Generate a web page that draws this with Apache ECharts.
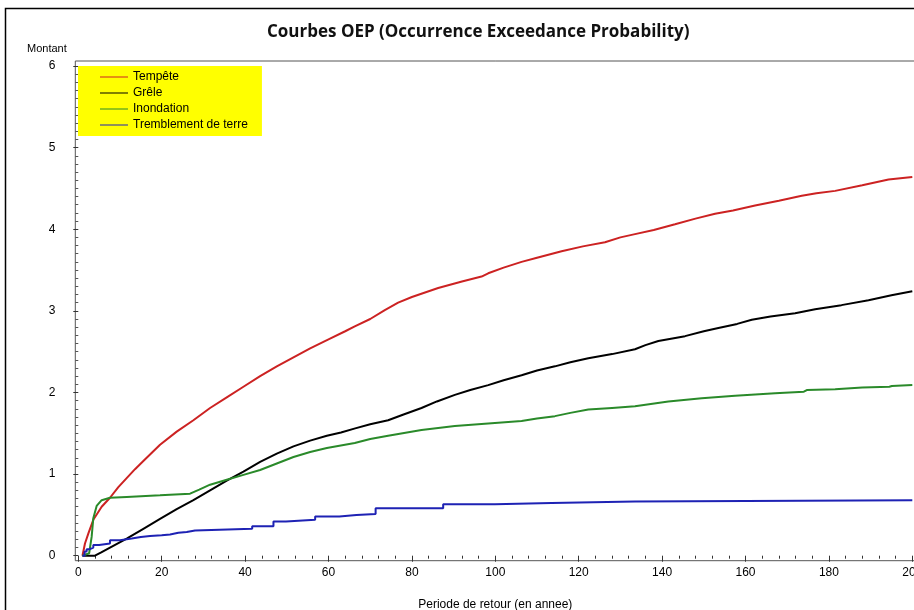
<!DOCTYPE html>
<html>
<head>
<meta charset="utf-8">
<script src="https://cdn.jsdelivr.net/npm/echarts@6/dist/echarts.min.js"></script>
<style>
html,body{margin:0;padding:0;background:#fff;}
#chart{width:914px;height:610px;}
</style>
</head>
<body>
<div id="chart"></div>
<script>
// ---- Data ----
const titleText = 'Courbes OEP (Occurrence Exceedance Probability)';
const yAxisName = 'Montant';
const xAxisName = 'Periode de retour (en annee)';
const seriesNames = ['Tempête', 'Grêle', 'Inondation', 'Tremblement de terre'];
const seriesColors = ['#cc2222', '#000000', '#2a8a2a', '#1e22b4'];

const tempete = [[1,0],[1.6,0.15],[2.4,0.27],[3.6,0.44],[5.6,0.60],[7.6,0.71],[9.6,0.84],[11.6,0.95],[13.6,1.06],[15.6,1.16],[19.6,1.36],[23.6,1.52],[27.6,1.66],[31.6,1.81],[35.6,1.94],[39.6,2.07],[43.6,2.20],[47.6,2.32],[51.6,2.43],[55.6,2.54],[60,2.65],[64,2.75],[66.3,2.81],[70,2.90],[73.5,3.01],[76.7,3.10],[80,3.17],[86.3,3.28],[92,3.36],[96.7,3.42],[98.3,3.46],[102,3.53],[106.3,3.60],[110,3.65],[115.9,3.73],[121,3.79],[126.3,3.84],[130,3.90],[133.5,3.94],[138,3.99],[143.1,4.06],[148,4.13],[152.7,4.19],[157,4.23],[162.3,4.29],[168,4.35],[173.5,4.41],[177,4.44],[181.5,4.47],[188,4.54],[194.3,4.61],[200,4.64]];

const grele = [[1,0],[4,0],[5.5,0.04],[7.6,0.10],[11.6,0.21],[15.6,0.33],[19.6,0.45],[23.6,0.57],[27.6,0.68],[31.6,0.80],[35.6,0.92],[39.6,1.03],[43.6,1.15],[47.6,1.25],[51.6,1.34],[55.6,1.41],[59.6,1.47],[63,1.51],[66.4,1.56],[70,1.61],[74.3,1.66],[78,1.73],[82.3,1.81],[86,1.89],[90.3,1.97],[94,2.03],[98.3,2.09],[102,2.15],[106.3,2.21],[110,2.27],[114.3,2.32],[118,2.37],[122.3,2.42],[128,2.47],[133.5,2.53],[136,2.58],[139.1,2.63],[145.5,2.69],[150,2.75],[153.5,2.79],[158,2.84],[161.5,2.89],[166,2.93],[171.9,2.97],[176.7,3.02],[183,3.07],[189.5,3.13],[195,3.19],[200,3.24]];

const inondation = [[1,0],[2.6,0.03],[3.2,0.23],[3.6,0.46],[4.4,0.61],[5.6,0.68],[7.6,0.71],[11.6,0.72],[19.6,0.74],[26.8,0.76],[29,0.81],[31.6,0.87],[35.6,0.93],[39.6,0.99],[43.6,1.05],[47.6,1.13],[51.6,1.21],[55.6,1.27],[59.6,1.32],[66.3,1.38],[70,1.43],[74.3,1.47],[82.3,1.54],[90.3,1.59],[98.3,1.62],[106.3,1.65],[110,1.68],[114.3,1.71],[118,1.75],[122.3,1.79],[128,1.81],[133.5,1.83],[141.5,1.89],[149.5,1.93],[157.5,1.96],[167.1,1.99],[174,2.01],[174.7,2.03],[181.5,2.04],[188,2.06],[194.5,2.07],[195.1,2.08],[200,2.09]];

const tremblement = [[1,0],[1.5,0.05],[2,0.08],[2.8,0.10],[3.6,0.13],[5,0.15],[7.6,0.19],[10,0.21],[12.8,0.23],[15,0.24],[17.2,0.25],[20,0.26],[22,0.28],[24,0.29],[26,0.31],[28,0.33],[41.7,0.36],[46.8,0.42],[49.8,0.44],[56.8,0.48],[62.6,0.50],[66.7,0.51],[71.3,0.58],[87.5,0.63],[99.9,0.645],[113.5,0.665],[133.5,0.68],[200,0.68]];

const xMin = 0, xMax = 200, xStep = 20;
const yMin = 0, yMax = 6, yStep = 1;

// ---- Chart ----
const chart = echarts.init(document.getElementById('chart'), null, {renderer: 'canvas'});
const FONT = 'Liberation Sans, Arial, sans-serif';
const gridL = 78.3, gridT = 66, gridR = 1.7, gridB = 54.3;

function lineSeries(name, data, color, step) {
  const s = {
    name: name, type: 'line', data: data, showSymbol: false, symbol: 'none',
    lineStyle: {color: color, width: 2}, itemStyle: {color: color},
    clip: false, animation: false
  };
  if (step) s.step = 'end';
  return s;
}

chart.setOption({
  animation: false,
  backgroundColor: '#ffffff',
  title: {
    text: titleText, left: 262, top: 19,
    textStyle: {fontFamily: 'Open Sans, Noto Sans, sans-serif', fontWeight: 'bold', fontSize: 17, color: '#111'}
  },
  legend: {
    orient: 'vertical', left: 78, top: 66,
    backgroundColor: '#ffff00',
    padding: [3, 14, 3, 22],
    icon: 'rect',
    itemWidth: 28, itemHeight: 1, itemGap: 0,
    data: seriesNames,
    textStyle: {fontFamily: FONT, fontSize: 12, lineHeight: 16, color: '#000'}
  },
  grid: {left: gridL, top: gridT, right: gridR, bottom: gridB, containLabel: false, outerBoundsMode: 'none'},
  xAxis: {
    type: 'value', min: xMin, max: xMax, interval: xStep, offset: 5,
    name: xAxisName, nameLocation: 'middle', nameGap: 38,
    nameTextStyle: {fontFamily: FONT, fontSize: 12, color: '#000'},
    axisLine: {show: false},
    axisTick: {show: true, length: 6, lineStyle: {color: '#333'}},
    minorTick: {show: true, splitNumber: 5, length: 3, lineStyle: {color: '#333'}},
    splitLine: {show: false},
    axisLabel: {fontFamily: FONT, fontSize: 12, color: '#000', margin: 6}
  },
  yAxis: {
    type: 'value', min: yMin, max: yMax, interval: yStep, offset: 3,
    axisLine: {show: false},
    axisTick: {show: true, length: 5, lineStyle: {color: '#333'}},
    minorTick: {show: true, splitNumber: 10, length: 3, lineStyle: {color: '#555'}},
    splitLine: {show: false},
    axisLabel: {fontFamily: FONT, fontSize: 12, color: '#000', margin: 20}
  },
  graphic: [
    {type: 'rect', silent: true, shape: {x: 5.5, y: 8.5, width: 1000, height: 1000},
     style: {fill: 'none', stroke: '#000', lineWidth: 1.5}, z: -1},
    {type: 'rect', silent: true, shape: {x: gridL - 3, y: gridT - 5, width: 1000, height: 610 - gridB - gridT + 10},
     style: {fill: 'none', stroke: '#555', lineWidth: 1}, z: -1},
    {type: 'text', left: 27, top: 43,
     style: {text: yAxisName, fontFamily: FONT, fontSize: 11, fill: '#000'}}
  ],
  series: [
    lineSeries(seriesNames[0], tempete, seriesColors[0], false),
    lineSeries(seriesNames[1], grele, seriesColors[1], false),
    lineSeries(seriesNames[2], inondation, seriesColors[2], false),
    lineSeries(seriesNames[3], tremblement, seriesColors[3], true)
  ]
});
</script>
</body>
</html>
